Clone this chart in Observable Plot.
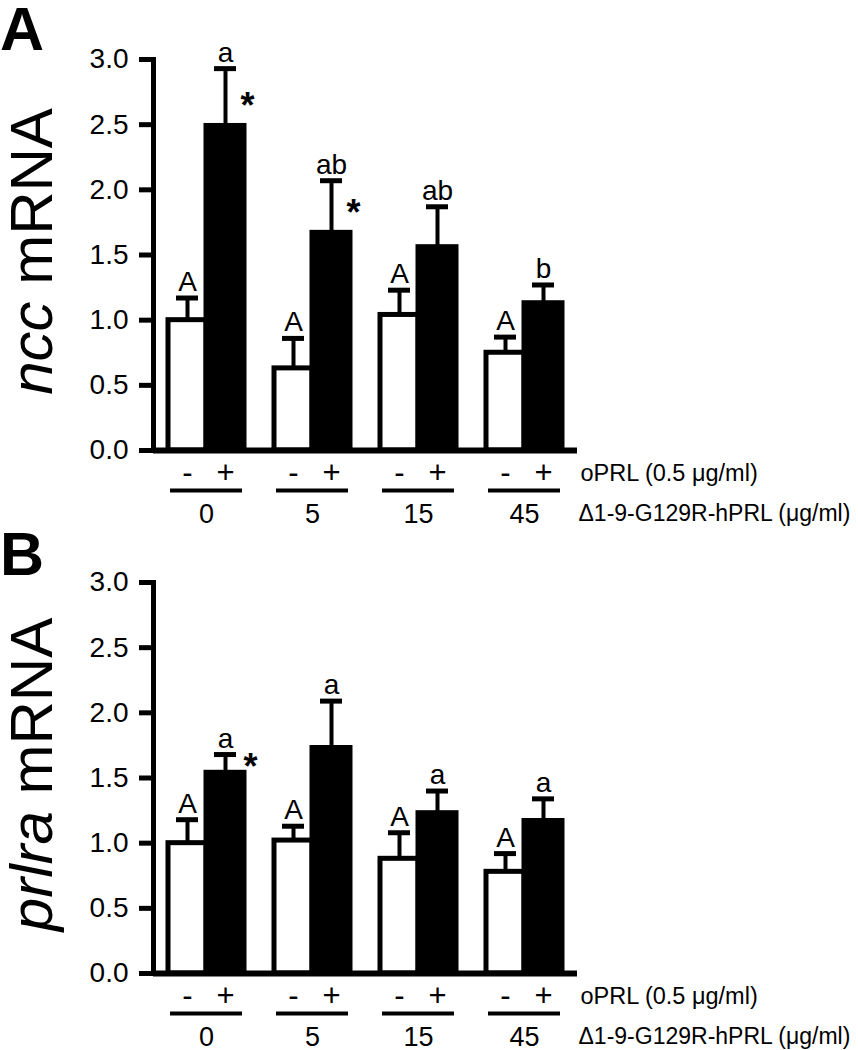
<!DOCTYPE html>
<html><head><meta charset="utf-8">
<script src="https://cdn.jsdelivr.net/npm/d3@7"></script>
<script src="https://cdn.jsdelivr.net/npm/@observablehq/plot@0.6"></script>
<style>
body{margin:0;background:#fff;}
#chart{width:858px;height:1050px;font-family:"Liberation Sans",Arial,sans-serif;}
#chart svg{display:block;}
</style></head><body><div id="chart"></div>
<script>
// ---- data ----
const doses = ["0", "5", "15", "45"];
const oprl = ["-", "+"];
const yTicks = [0, 0.5, 1.0, 1.5, 2.0, 2.5, 3.0];
const oprlLabel = "oPRL (0.5 μg/ml)";
const drugLabel = "Δ1-9-G129R-hPRL (μg/ml)";

// Panel A: ncc mRNA
const nccMeanMinus = [1.00, 0.63, 1.04, 0.75];
const nccSemMinus  = [0.17, 0.23, 0.19, 0.12];
const nccMeanPlus  = [2.49, 1.67, 1.56, 1.13];
const nccSemPlus   = [0.44, 0.40, 0.31, 0.14];
const nccLetterMinus = ["A", "A", "A", "A"];
const nccLetterPlus  = ["a", "ab", "ab", "b"];
const nccStar = [true, true, false, false];

// Panel B: prlra mRNA
const prlraMeanMinus = [1.00, 1.02, 0.88, 0.78];
const prlraSemMinus  = [0.18, 0.11, 0.20, 0.14];
const prlraMeanPlus  = [1.54, 1.73, 1.23, 1.17];
const prlraSemPlus   = [0.14, 0.36, 0.17, 0.17];
const prlraLetterMinus = ["A", "A", "A", "A"];
const prlraLetterPlus  = ["a", "a", "a", "a"];
const prlraStar = [true, false, false, false];

function buildRows(meanM, semM, letM, meanP, semP, letP, star) {
  const rows = [];
  doses.forEach((d, i) => {
    rows.push({dose: d, oprl: "-", mean: meanM[i], top: meanM[i] + semM[i], letter: letM[i], star: false});
    rows.push({dose: d, oprl: "+", mean: meanP[i], top: meanP[i] + semP[i], letter: letP[i], star: star[i]});
  });
  return rows;
}

const FONT = "Liberation Sans, Arial, Helvetica, sans-serif";

function panel({rows, letter, gene, starDx, starDy, marginTop, marginBottom}) {
  const plot = Plot.plot({
    width: 858, height: 525,
    marginLeft: 152, marginRight: 279.25, marginTop, marginBottom,
    style: {fontFamily: FONT, fontSize: "27px", background: "white", color: "black", overflow: "visible"},
    fx: {domain: doses, padding: 0, axis: null},
    x: {domain: oprl, paddingInner: 0, paddingOuter: 0.368, axis: null},
    y: {domain: [0, 3], axis: null},
    marks: [
      Plot.barY(rows.filter(d => d.oprl === "-"), {fx: "dose", x: "oprl", y: "mean", fill: "white", stroke: "black", strokeWidth: 5}),
      Plot.barY(rows.filter(d => d.oprl === "+"), {fx: "dose", x: "oprl", y: "mean", fill: "black", stroke: "black", strokeWidth: 5}),
      Plot.ruleX(rows, {fx: "dose", x: "oprl", y1: "mean", y2: "top", strokeWidth: 4}),
      Plot.tickY(rows, {fx: "dose", x: "oprl", y: "top", strokeWidth: 5, insetLeft: 8, insetRight: 8}),
      Plot.text(rows, {fx: "dose", x: "oprl", y: "top", text: "letter", lineAnchor: "bottom", dy: -7, fontSize: 28}),
      Plot.text(rows.filter(d => d.star), {fx: "dose", x: "oprl", y: "mean", text: () => "*", dx: starDx, dy: starDy, fontSize: 36, fontWeight: "bold", lineAnchor: "bottom"}),
      Plot.ruleY([0], {strokeWidth: 6}),
      Plot.frame({anchor: "left", facetAnchor: "left", strokeWidth: 5}),
      Plot.axisY({ticks: yTicks, tickFormat: d3.format(".1f"), tickSize: 14, tickPadding: 11, strokeWidth: 5, fontSize: 28, label: null}),
      Plot.axisX({tickSize: 0, tickPadding: 10, fontSize: 31, label: null}),
      Plot.ruleY(doses, {fx: d => d, y: () => 0, x1: () => "-", x2: () => "+", dy: 40, strokeWidth: 4, insetLeft: 2, insetRight: 2}),
      Plot.text(doses, {fx: d => d, text: d => d, frameAnchor: "bottom", lineAnchor: "bottom", dy: 72, fontSize: 27}),
      Plot.text([oprlLabel], {fx: () => "45", text: d => d, frameAnchor: "bottom-right", textAnchor: "start", lineAnchor: "bottom", dx: 3, dy: 30, fontSize: 23.5}),
      Plot.text([drugLabel], {fx: () => "45", text: d => d, frameAnchor: "bottom-right", textAnchor: "start", lineAnchor: "bottom", dx: 1, dy: 70, fontSize: 23})
    ]
  });
  const svg = d3.select(plot);
  const yS = plot.scale("y");
  const yc = (yS.apply(0) + yS.apply(3)) / 2;
  const lab = svg.append("text")
    .attr("transform", `translate(${152 - 100},${yc - 3}) rotate(-90)`)
    .attr("text-anchor", "middle").attr("font-size", 60).attr("fill", "black")
    .attr("font-family", FONT);
  lab.append("tspan").attr("font-style", "italic").text(gene);
  lab.append("tspan").text(" mRNA");
  svg.append("text").attr("x", 0).attr("y", 50).attr("font-weight", "bold")
    .attr("text-anchor", "start")
    .attr("font-size", 61).attr("font-family", FONT).attr("fill", "black").text(letter);
  return plot;
}

const chart = document.getElementById("chart");
chart.append(panel({
  rows: buildRows(nccMeanMinus, nccSemMinus, nccLetterMinus, nccMeanPlus, nccSemPlus, nccLetterPlus, nccStar),
  letter: "A", gene: "ncc", starDx: 22, starDy: -8, marginTop: 59, marginBottom: 75
}));
chart.append(panel({
  rows: buildRows(prlraMeanMinus, prlraSemMinus, prlraLetterMinus, prlraMeanPlus, prlraSemPlus, prlraLetterPlus, prlraStar),
  letter: "B", gene: "prlra", starDx: 25, starDy: 6, marginTop: 57, marginBottom: 77
}));
</script></body></html>
